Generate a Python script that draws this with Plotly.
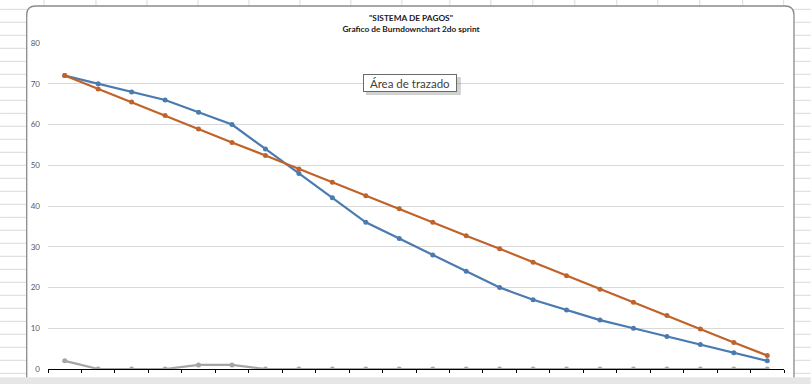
import plotly.graph_objects as go

# ---------------- data ----------------
days = list(range(22))
real = [72, 70, 68, 66, 63, 60, 54, 48, 42, 36, 32, 28, 24, 20, 17, 14.5, 12, 10, 8, 6, 4, 2]
ideal = [72, 68.7, 65.5, 62.2, 58.9, 55.6, 52.4, 49.1, 45.8, 42.5, 39.3, 36.0,
         32.7, 29.5, 26.2, 22.9, 19.6, 16.4, 13.1, 9.8, 6.5, 3.3]
extra = [2, 0, 0, 0, 1, 1, 0, 0, 0, 0, 0, 0, 0, 0, 0, 0, 0, 0, 0, 0, 0, 0]
y_ticks = [0, 10, 20, 30, 40, 50, 60, 70, 80]
title_l1 = '"SISTEMA DE PAGOS"'
title_l2 = "Grafico de Burndownchart 2do sprint"
tooltip = "Área de trazado"

# ---------------- layout geometry (pixels) ----------------
W, H = 811, 384
L, R, T, B = 48, 784.3, 43, 369


def px(x):
    return (x - L) / (R - L)


def py(y):
    return (B - y) / (B - T)


BLUE = "#4a7ab0"
ORANGE = "#c0632b"
GRAY = "#a5a5a5"

fig = go.Figure()
fig.add_trace(go.Scatter(x=days, y=real, mode="lines+markers", name="Real",
                         line=dict(color=BLUE, width=2.2),
                         marker=dict(color=BLUE, size=5)))
fig.add_trace(go.Scatter(x=days, y=ideal, mode="lines+markers", name="Ideal",
                         line=dict(color=ORANGE, width=2.2),
                         marker=dict(color=ORANGE, size=5)))
fig.add_trace(go.Scatter(x=days, y=extra, mode="lines+markers", name="Extra",
                         line=dict(color=GRAY, width=2.2),
                         marker=dict(color=GRAY, size=5)))

shapes = []
# spreadsheet grid behind the chart
grid_col = "#dadada"
yy = 9.3
while yy < H:
    shapes.append(dict(type="line", xref="paper", yref="paper", layer="below",
                       x0=px(0), x1=px(W), y0=py(yy), y1=py(yy),
                       line=dict(color=grid_col, width=1)))
    yy += 13.0
for cx in [44, 96, 147, 198, 249, 300, 351, 402, 450, 491, 533, 575, 617, 658, 700, 743, 784]:
    shapes.append(dict(type="line", xref="paper", yref="paper", layer="below",
                       x0=px(cx), x1=px(cx), y0=py(0), y1=py(8),
                       line=dict(color=grid_col, width=1)))

# chart area rounded box
x0b, x1b, y0b, y1b, r = 26.7, 794.3, 6.0, 400.0, 9.0


def P(x, y):
    return f"{px(x):.5f},{py(y):.5f}"


path = (f"M {P(x0b + r, y0b)} L {P(x1b - r, y0b)} Q {P(x1b, y0b)} {P(x1b, y0b + r)} "
        f"L {P(x1b, y1b)} L {P(x0b, y1b)} L {P(x0b, y0b + r)} Q {P(x0b, y0b)} {P(x0b + r, y0b)} Z")
shapes.append(dict(type="path", path=path, xref="paper", yref="paper", layer="below",
                   fillcolor="white", line=dict(color="#8a8a8a", width=1.3)))
# bottom gray bar
shapes.append(dict(type="rect", xref="paper", yref="paper", layer="above",
                   x0=px(0), x1=px(W), y0=py(377.3), y1=py(H + 2),
                   fillcolor="#e6e6e6", line=dict(width=0)))
# tooltip shadow
shapes.append(dict(type="rect", xref="paper", yref="paper", layer="above",
                   x0=px(366), x1=px(461), y0=py(77), y1=py(95),
                   fillcolor="rgba(0,0,0,0.18)", line=dict(width=0)))

fig.update_layout(
    width=W, height=H,
    margin=dict(l=L, r=W - R, t=T, b=H - B, autoexpand=False),
    paper_bgcolor="white", plot_bgcolor="rgba(0,0,0,0)",
    showlegend=False,
    shapes=shapes,
    title=dict(text=f"<b>{title_l1}</b><br><b>{title_l2}</b>",
               x=411 / W, xref="container", xanchor="center",
               y=1 - 21 / H, yref="container", yanchor="middle",
               font=dict(family="Lato", size=8.3, color="#1a1a1a")),
    annotations=[dict(text=tooltip, xref="paper", yref="paper",
                      x=px(410.5), y=py(83), xanchor="center", yanchor="middle",
                      showarrow=False, width=92, height=16, borderpad=0,
                      bgcolor="white", bordercolor="#6a6a6a", borderwidth=1,
                      font=dict(family="Lato", size=11.5, color="#404040"))],
    xaxis=dict(range=[-0.5, len(days) - 0.5], tickmode="array",
               tickvals=[d - 0.5 for d in days] + [len(days) - 0.5],
               showticklabels=False, showgrid=False, zeroline=False,
               showline=True, linecolor="black", linewidth=1,
               ticks="outside", ticklen=3, tickcolor="black", tickwidth=1,
               layer="below traces", fixedrange=True, automargin=False),
    xaxis2=dict(overlaying="x", matches="x", anchor="y", tickmode="array",
                range=[-0.5, len(days) - 0.5],
                tickvals=[d - 0.5 for d in days] + [len(days) - 0.5],
                showticklabels=False, showgrid=False, zeroline=False, showline=False,
                ticks="inside", ticklen=3, tickcolor="black", tickwidth=1,
                layer="above traces", automargin=False),
    yaxis=dict(range=[0, 80], tickmode="array", tickvals=y_ticks,
               showgrid=True, gridcolor="#d9d9d9", gridwidth=1,
               zeroline=False, showline=False, ticks="",
               ticklabelstandoff=7, automargin=False,
               tickfont=dict(family="Lato", size=8, color="#595959")),
)

fig.write_html("out.html")
